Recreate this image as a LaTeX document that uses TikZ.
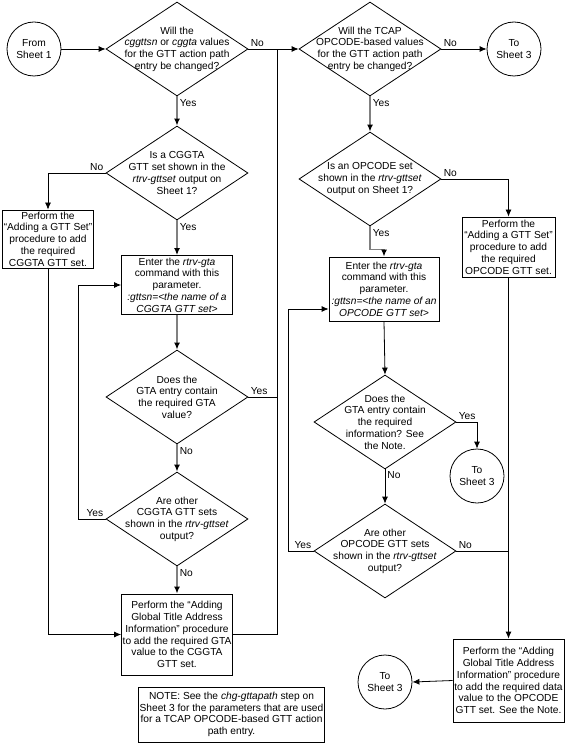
\documentclass[tikz,border=0pt]{standalone}
\usepackage{fontspec}
\setmainfont{Liberation Sans}
\usetikzlibrary{shapes.geometric,arrows.meta}

\begin{document}
\begin{tikzpicture}[x=1pt,y=-1pt,>={Latex[length=7pt,width=6pt]},
  every node/.style={font=\fontsize{10.2}{11.7}\selectfont},
  line/.style={line width=0.8pt},
  flow/.style={draw=gray,line width=1.5pt,-{Latex[black,length=7pt,width=6pt]}},
  decision/.style={diamond,draw,line width=0.8pt,aspect=1.5,inner sep=-12pt,
    minimum width=142pt,minimum height=94pt,align=center},
  sheet/.style={circle,draw,line width=0.8pt,minimum size=54pt,inner sep=0pt,align=center},
  proc/.style={rectangle,draw,line width=0.8pt,inner sep=1pt,align=center},
  lbl/.style={inner sep=2pt,black}]
\useasboundingbox (0,0) rectangle (565,743);

% Top row
\node[sheet] (from1) at (34,49) {From\\Sheet 1};
\node[decision] (q1) at (177,49) {Will the\\\textit{cggttsn} or \textit{cggta} values\\for the GTT action path\\entry be changed?};
\node[decision] (q2) at (370,49) {Will the TCAP\\OPCODE-based values\\for the GTT action path\\entry be changed?};
\node[sheet] (to3a) at (514,49) {To\\Sheet 3};

% CGGTA column
\node[decision] (q3) at (177,173) {Is a CGGTA\\GTT set shown in the\\\textit{rtrv-gttset} output on\\Sheet 1?};
\node[proc,minimum width=91pt,minimum height=58pt] (addset1) at (48,239)
  {Perform the\\“Adding a GTT Set”\\procedure to add\\the required\\CGGTA GTT set.};
\node[proc,minimum width=111pt,minimum height=59pt] (enter1) at (177,285)
  {Enter the \textit{rtrv-gta}\\command with this\\parameter.\\\textit{:gttsn=<the name of a}\\\textit{CGGTA GTT set>}};
\node[decision] (q5) at (177,397) {Does the\\GTA entry contain\\the required GTA\\value?};
\node[decision] (q7) at (177,519) {Are other\\CGGTA GTT sets\\shown in the \textit{rtrv-gttset}\\output?};
\node[proc,minimum width=111pt,minimum height=81pt] (addgta1) at (177,634.5)
  {Perform the “Adding\\Global Title Address\\Information” procedure\\to add the required GTA\\value to the CGGTA\\GTT set.};
\node[proc,minimum width=183pt,minimum height=55pt] (note) at (231.5,714.5)
  {NOTE: See the \textit{chg-gttapath} step on\\Sheet 3 for the parameters that are used\\for a TCAP OPCODE-based GTT action\\path entry.};

% OPCODE column
\node[decision] (q4) at (370,179) {Is an OPCODE set\\shown in the \textit{rtrv-gttset}\\output on Sheet 1?};
\node[proc,minimum width=93pt,minimum height=60pt] (addset2) at (508.5,247)
  {Perform the\\“Adding a GTT Set”\\procedure to add\\the required\\OPCODE GTT set.};
\node[proc,minimum width=110pt,minimum height=64pt] (enter2) at (384,289)
  {Enter the \textit{rtrv-gta}\\command with this\\parameter.\\\textit{:gttsn=<the name of an}\\\textit{OPCODE GTT set>}};
\node[decision] (q6) at (385,422) {Does the\\GTA entry contain\\the required\\information? See\\the Note.};
\node[sheet] (to3b) at (477,476) {To\\Sheet 3};
\node[decision] (q8) at (385,551) {Are other\\OPCODE GTT sets\\shown in the \textit{rtrv-gttset}\\output?};
\node[proc,minimum width=111pt,minimum height=83pt] (addgta2) at (508.5,680.5)
  {Perform the “Adding\\Global Title Address\\Information” procedure\\to add the required data\\value to the OPCODE\\GTT set. See the Note.};
\node[sheet] (to3c) at (385,682) {To\\Sheet 3};

\coordinate (jr) at (277,49);
\coordinate (loop1) at (78,519);
\coordinate (loop2) at (288,309);

% connectors, left
\draw[line,->] (from1) -- (q1);
\draw[line,->] (q1.east) -- node[lbl,above right,pos=0] (n1) {No} (q2.west);
\draw[flow] (q1.south) -- node[lbl,below right,pos=0] (y1) {Yes} (q3.north);
\draw[line,->] (q3.west) -| node[lbl,above left,pos=0] (n3) {No} (addset1.north);
\draw[flow] (q3.south) -- node[lbl,below right,pos=0] (y3) {Yes} (enter1.north);
\draw[line,->] (addset1.south) |- (addgta1.west);
\draw[flow] (enter1.south) -- (q5.north);
\draw[line] (q5.east) -- node[lbl,above right,pos=0] (y5) {Yes} (q5.east -| jr);
\draw[flow] (q5.south) -- node[lbl,below right,pos=0] (n5) {No} (q7.north);
\draw[line,->] (q7.west) -- node[lbl,above left,pos=0] (y7) {Yes} (loop1) |- (enter1.west);
\draw[flow] (q7.south) -- node[lbl,below right,pos=0] (n7) {No} (addgta1.north);
\draw[line] (addgta1.east) -| (jr);

% connectors, right
\draw[line,->] (q2.east) -- node[lbl,above right,pos=0] (n2) {No} (to3a.west);
\draw[flow] (q2.south) -- node[lbl,below right,pos=0] (y2) {Yes} (q4.north);
\draw[line,->] (q4.east) -| node[lbl,above right,pos=0] (n4) {No} (addset2.north);
\draw[flow] (q4.south) -- node[lbl,below right,pos=0] (y4) {Yes} ++(0,23) -| (enter2.north);
\draw[line,->] (addset2.south) -- (addgta2.north);
\draw[line,->] (enter2.south) -- (q6.north);
\draw[line,->] (q6.east) -| node[lbl,above right,pos=0] (y6) {Yes} (to3b.north);
\draw[line,->] (q6.south) -- node[lbl,below right,pos=0] (n6) {No} (q8.north);
\draw[line,->] (q8.west) -- node[lbl,above left,pos=0] (y8) {Yes} (q8.west -| loop2) -- (loop2) -- (loop2 -| enter2.west);
\draw[line] (q8.east) -- node[lbl,above right,pos=0] (n8) {No} (q8.east -| addset2);
\draw[line,->] (addgta2.west) -- (to3c.east);

\end{tikzpicture}
\end{document}
